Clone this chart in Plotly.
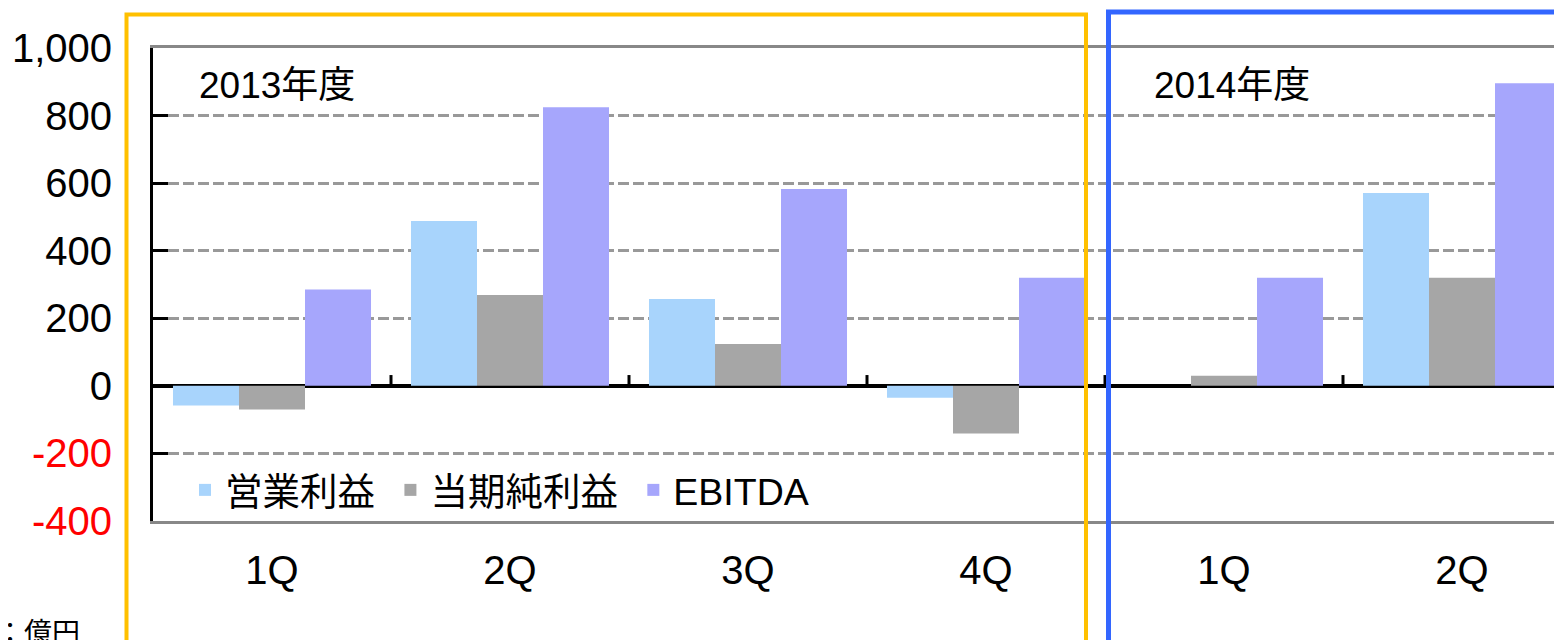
import plotly.graph_objects as go

# ---- data ----
quarters = ["1Q", "2Q", "3Q", "4Q", "1Q", "2Q"]
operating_profit = [-58, 488, 257, -35, 0, 571]      # 営業利益
net_profit = [-70, 269, 124, -141, 30, 320]           # 当期純利益
ebitda = [285, 825, 583, 320, 320, 896]               # EBITDA
series_names = ["営業利益", "当期純利益", "EBITDA"]
year_labels = ["2013年度", "2014年度"]
y_tickvals = [1000, 800, 600, 400, 200, 0, -200, -400]

OFF = 8  # default page body margin
W, H = 1562 - OFF, 640 - OFF
L, T = 153 - OFF, 48 - OFF
B = H - (521 - OFF)
R = 0
PW, PH = W - L - R, H - T - B
FONT = "Liberation Sans, Arial, Noto Sans CJK JP, sans-serif"


def px_x(p):
    return (p - OFF - L) / PW


def px_y(p):
    return (H - B - (p - OFF)) / PH


x = list(range(len(quarters)))
colors = ["#a8d4fc", "#a6a6a6", "#a6a6fc"]

fig = go.Figure()
for name, vals, c in zip(series_names, [operating_profit, net_profit, ebitda], colors):
    fig.add_trace(go.Bar(x=x, y=vals, name=name + "&nbsp;",
                         marker=dict(color=c, line=dict(width=0))))

ticktext = []
for v in y_tickvals:
    s = f"{v:,}"
    ticktext.append(f"<span style='color:#ff0000'>{s}</span>" if v < 0 else s)

fig.update_layout(
    width=W, height=H,
    margin=dict(l=L, r=R, t=T, b=B, autoexpand=False),
    paper_bgcolor="white", plot_bgcolor="white",
    barmode="group", bargap=0.168, bargroupgap=0,
    font=dict(family=FONT, color="black", size=40),
    showlegend=True,
    legend=dict(orientation="h", x=px_x(185), y=px_y(490), xanchor="left", yanchor="middle",
                bgcolor="rgba(0,0,0,0)", font=dict(size=37.5, family=FONT), traceorder="normal",
                itemwidth=30),
    xaxis=dict(range=[-0.5, -0.5 + PW / 238.0], tickmode="array", tickvals=x, ticktext=quarters,
               showgrid=False, zeroline=False, showline=True, linecolor="#888888", linewidth=3,
               mirror=True, ticks="", ticklabelstandoff=12, tickfont=dict(size=40)),
    yaxis=dict(range=[-400, 1000], tickmode="array", tickvals=y_tickvals, ticktext=ticktext,
               showgrid=True, gridcolor="#999999", gridwidth=3, griddash="11px,4px",
               zeroline=True, zerolinecolor="black", zerolinewidth=4,
               showline=True, linecolor="black", linewidth=3,
               ticks="inside", ticklen=15, tickwidth=3, tickcolor="black",
               ticklabelstandoff=30, tickfont=dict(size=40)),
)

# year labels
for lbl, xi in zip(year_labels, [-0.5 + (197 - 153) / 238.0, -0.5 + (1152 - 153) / 238.0]):
    fig.add_annotation(x=xi, y=888, xref="x", yref="y", text=lbl, showarrow=False,
                       xanchor="left", yanchor="middle", font=dict(size=37, family=FONT))

# category boundary ticks on the zero line
for i in range(len(quarters) - 1):
    fig.add_shape(type="line", xref="x", yref="y", x0=i + 0.5, x1=i + 0.5, y0=0, y1=32,
                  line=dict(color="black", width=3))

# fiscal-year frames
fig.add_shape(type="rect", xref="paper", yref="paper", x0=px_x(126.5), x1=px_x(1086),
              y0=px_y(700), y1=px_y(14.5), line=dict(color="#ffc000", width=4), layer="above")
fig.add_shape(type="rect", xref="paper", yref="paper", x0=px_x(1108.5), x1=px_x(1700),
              y0=px_y(700), y1=px_y(12), line=dict(color="#3366ff", width=5), layer="above")

# unit note
fig.add_annotation(x=px_x(82), y=px_y(616), xref="paper", yref="paper", text="単位：億円",
                   showarrow=False, xanchor="right", yanchor="top", font=dict(size=28, family=FONT))

fig.write_html("out.html")
